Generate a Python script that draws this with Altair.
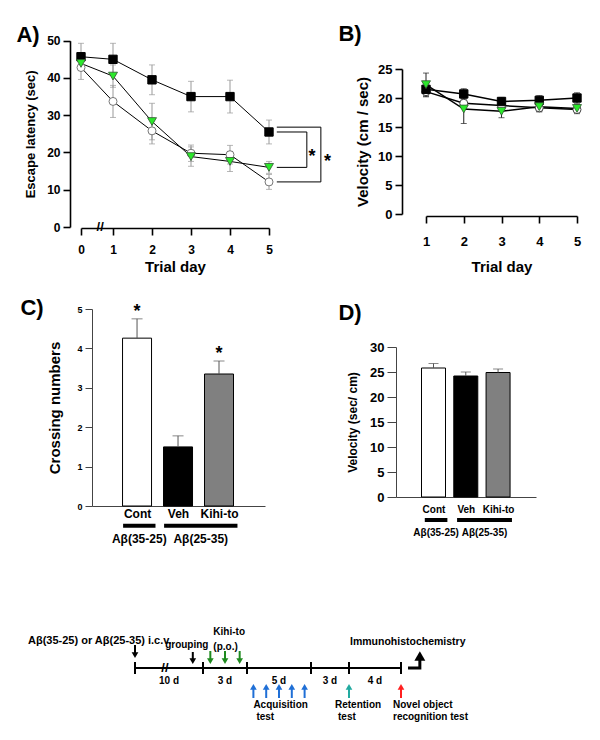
import json
import altair as alt
import pandas as pd

FONT = "Liberation Sans"
W, H = 584, 724

# ---------------- data ----------------
days_a = [0, 1, 2, 3, 4, 5]
esc_cont = [42.8, 33.7, 25.8, 19.8, 19.4, 12.1]
esc_cont_sem = [3.2, 4.3, 3.5, 2.2, 2.5, 2.0]
esc_veh = [45.7, 45.0, 39.5, 35.0, 35.0, 25.5]
esc_veh_sem = [3.6, 4.3, 4.0, 4.1, 4.4, 3.2]
esc_kihi = [43.9, 40.5, 28.3, 18.9, 17.6, 16.0]
esc_kihi_sem = [1.5, 3.0, 4.9, 2.6, 2.7, 1.6]

days_b = [1, 2, 3, 4, 5]
vel_cont = [21.1, 19.1, 18.7, 18.3, 18.0]
vel_cont_sem = [0.9, 0.8, 0.6, 0.7, 0.7]
vel_veh = [21.5, 20.7, 19.4, 19.6, 20.0]
vel_veh_sem = [1.0, 0.9, 0.7, 0.8, 0.9]
vel_kihi = [22.3, 18.1, 17.7, 18.5, 18.2]
vel_kihi_sem = [2.0, 2.5, 1.1, 0.8, 0.7]

bar_groups = ["Cont", "Veh", "Kihi-to"]
crossing = [4.26, 1.50, 3.35]
crossing_sem = [0.49, 0.28, 0.33]
crossing_sig = ["*", "", "*"]
probe_velocity = [25.8, 24.2, 24.9]
probe_velocity_sem = [0.9, 0.8, 0.7]

peptide_labels = ["Aβ(35-25)", "Aβ(25-35)"]
peptide_first = [0, 1]
peptide_last = [0, 2]

seg_labels = ["10 d", "3 d", "5 d", "3 d", "4 d"]
seg_days = [10, 3, 5, 3, 4]
icv_day = [0]
grouping_day = [8.5]
kihito_days = [10.5, 11.5, 12.5]
acquisition_days = [13.5, 14.5, 15.5, 16.5, 17.5]
retention_day = [21]
nor_day = [25]

GREEN = "#2be82b"


def pg(v):
    return v - 8


def lin(domain, rng):
    return alt.Scale(domain=domain, range=rng, nice=False, zero=False)


def T(**kw):
    d = dict(font=FONT, fontWeight="bold", color="black")
    d.update(kw)
    return d


def enc_pair(xs, ys, ax_x, ax_y):
    def X(f):
        return alt.X(f, type="quantitative", scale=xs, axis=ax_x)

    def Y(f):
        return alt.Y(f, type="quantitative", scale=ys, axis=ax_y)
    return X, Y


# ---------------- line panels ----------------
def series_parts(days, mean, sem, X, Y, err_color, line_w):
    df = pd.DataFrame({"day": days, "m": mean, "s": sem})
    b = alt.Chart(df).transform_calculate(lo="datum.m - datum.s", hi="datum.m + datum.s")
    err = [
        b.mark_rule(color=err_color, strokeWidth=1).encode(x=X("day"), y=Y("lo"), y2="hi:Q"),
        b.mark_tick(color=err_color, orient="horizontal", size=6, thickness=1).encode(
            x=X("day"), y=Y("lo")),
        b.mark_tick(color=err_color, orient="horizontal", size=6, thickness=1).encode(
            x=X("day"), y=Y("hi")),
    ]
    ln = b.mark_line(color="black", strokeWidth=line_w).encode(x=X("day"), y=Y("m"))
    return b, err, ln


def pts(b, X, Y, shape, fill, stroke, size, sw=1):
    return b.mark_point(shape=shape, filled=True, fill=fill, stroke=stroke,
                        strokeWidth=sw, size=size, opacity=1).encode(x=X("day"), y=Y("m"))


# Panel A
xa = lin([0, 1, 5], [pg(81), pg(113), pg(269)])
ya = lin([0, 50], [pg(227), pg(40.7)])
ax_xa = alt.Axis(orient="bottom", offset=pg(228) - H, values=days_a, format="d",
                 tickSize=7, labelFontSize=12, labelPadding=9, labelFlush=False,
                 title="Trial day", titleFontSize=15, titlePadding=4)
ax_ya = alt.Axis(orient="left", offset=-pg(70), values=[0, 10, 20, 30, 40, 50],
                 tickSize=7, labelFontSize=12, labelPadding=3,
                 title="Escape latency (sec)", titleFontSize=13, titlePadding=9)
XA, YA = enc_pair(xa, ya, ax_xa, ax_ya)

bc, ec, lc = series_parts(days_a, esc_cont, esc_cont_sem, XA, YA, "#999999", 1)
bv, ev, lv = series_parts(days_a, esc_veh, esc_veh_sem, XA, YA, "#999999", 1)
bk, ek, lk = series_parts(days_a, esc_kihi, esc_kihi_sem, XA, YA, "#999999", 1)

brk_a = alt.Chart(pd.DataFrame({"x": [0.6], "y": [0], "t": ["//"]})).mark_text(
    **T(fontSize=13, baseline="middle")).encode(x=XA("x"), y=YA("y"), text="t:N")

# significance brackets derived from day-5 means
last = len(days_a) - 1
br_rows = []
for y_top, y_bot, xv in [(esc_veh[last], esc_kihi[last], 5.97),
                         (esc_veh[last] + 1.3, esc_cont[last], 6.33)]:
    br_rows += [
        {"x": 5.2, "x2": xv, "y": y_top, "y2": y_top},
        {"x": 5.2, "x2": xv, "y": y_bot, "y2": y_bot},
        {"x": xv, "x2": xv, "y": y_top, "y2": y_bot},
    ]
brackets = alt.Chart(pd.DataFrame(br_rows)).mark_rule(color="black", strokeWidth=1).encode(
    x=XA("x"), x2="x2:Q", y=YA("y"), y2="y2:Q")
star_rows = [{"x": 6.1, "y": (esc_veh[last] + esc_kihi[last]) / 2, "t": "*"},
             {"x": 6.5, "y": (esc_veh[last] + 1.3 + esc_cont[last]) / 2, "t": "*"}]
stars_a = alt.Chart(pd.DataFrame(star_rows)).mark_text(
    **T(fontSize=18, baseline="alphabetic", dy=12)).encode(x=XA("x"), y=YA("y"), text="t:N")

panelA = alt.layer(
    *ec, *ev, *ek, lc, lv, lk,
    pts(bc, XA, YA, "circle", "white", "#777777", 64),
    pts(bv, XA, YA, "square", "black", "black", 70),
    pts(bk, XA, YA, "triangle-down", GREEN, "#335533", 81, 0.8),
    brk_a, brackets, stars_a,
)

# Panel B
xb = lin([1, 5], [pg(426), pg(577)])
yb = lin([0, 25], [pg(214), pg(69)])
ax_xb = alt.Axis(orient="bottom", offset=pg(216) - H, values=days_b, format="d",
                 tickSize=7, labelFontSize=13, labelPadding=12, labelFlush=False,
                 title="Trial day", titleFontSize=15, titlePadding=11)
ax_yb = alt.Axis(orient="left", offset=-pg(402), values=[0, 5, 10, 15, 20, 25],
                 tickSize=7, labelFontSize=13, labelPadding=3,
                 title="Velocity (cm / sec)", titleFontSize=15, titlePadding=7)
XB, YB = enc_pair(xb, yb, ax_xb, ax_yb)
b2c, e2c, l2c = series_parts(days_b, vel_cont, vel_cont_sem, XB, YB, "#222222", 1.5)
b2v, e2v, l2v = series_parts(days_b, vel_veh, vel_veh_sem, XB, YB, "#222222", 1.5)
b2k, e2k, l2k = series_parts(days_b, vel_kihi, vel_kihi_sem, XB, YB, "#222222", 1.5)
panelB = alt.layer(
    *e2c, *e2v, *e2k, l2c, l2v, l2k,
    pts(b2c, XB, YB, "circle", "white", "#444444", 64),
    pts(b2v, XB, YB, "square", "black", "black", 70),
    pts(b2k, XB, YB, "triangle-down", GREEN, "#335533", 81, 0.8),
)


# ---------------- bar panels ----------------
label_expr = json.dumps(bar_groups) + "[datum.value]"


def bar_panel(mean, sem, xs, ys, bar_w, cap_w, yvals, ytitle, ytitle_size, ytitle_pad,
              ylab_size, ytick, y_axis_x, x_axis_y, y_under, y_lab, pad_lo, pad_hi,
              lab_size, lab_pad, grp_size, sig=None):
    df = pd.DataFrame({"idx": list(range(len(bar_groups))), "grp": bar_groups,
                       "m": mean, "s": sem})
    if sig is not None:
        df["sig"] = sig
    b = alt.Chart(df).transform_calculate(hi="datum.m + datum.s")
    ax_x = alt.Axis(orient="bottom", offset=pg(x_axis_y) - H, values=list(range(len(bar_groups))),
                    labelExpr=label_expr, ticks=False, labelFontSize=lab_size,
                    labelPadding=lab_pad, labelFlush=False, title=None,
                    domainColor="#444444", domainWidth=1)
    ax_y = alt.Axis(orient="left", offset=-pg(y_axis_x), values=yvals, tickSize=ytick,
                    labelFontSize=ylab_size, labelPadding=3, title=ytitle,
                    titleFontSize=ytitle_size, titlePadding=ytitle_pad,
                    domainColor="#444444", tickColor="#444444", domainWidth=1, tickWidth=1)
    X, Y = enc_pair(xs, ys, ax_x, ax_y)
    bars = b.mark_bar(orient="vertical", size=bar_w, stroke="black", strokeWidth=1).encode(
        x=X("idx"), y=Y("m"),
        fill=alt.Fill("grp:N", scale=alt.Scale(domain=bar_groups,
                                               range=["white", "black", "#808080"]),
                      legend=None))
    err = b.mark_rule(color="#555555", strokeWidth=1).encode(x=X("idx"), y=Y("m"), y2="hi:Q")
    cap = b.mark_tick(color="#555555", orient="horizontal", size=cap_w, thickness=1).encode(
        x=X("idx"), y=Y("hi"))
    pdf = pd.DataFrame({"lab": peptide_labels, "first": peptide_first, "last": peptide_last})
    pb = alt.Chart(pdf).transform_calculate(
        lo=f"datum.first - {pad_lo}", hi2=f"datum.last + {pad_hi}",
        mid=f"(datum.first - {pad_lo} + datum.last + {pad_hi}) / 2",
        yu=str(y_under), yl=str(y_lab))
    under = pb.mark_rule(color="black", strokeWidth=4).encode(
        x=X("lo"), x2="hi2:Q", y=Y("yu"))
    glab = pb.mark_text(**T(fontSize=grp_size, baseline="middle")).encode(
        x=X("mid"), y=Y("yl"), text="lab:N")
    layers = [bars, err, cap, under, glab]
    if sig is not None:
        layers.append(b.mark_text(**T(fontSize=18, baseline="alphabetic", dy=-2)).encode(
            x=X("idx"), y=Y("hi"), text="sig:N"))
    return alt.layer(*layers)


xc = lin([-0.977, 3.0], [pg(92), pg(265)])
yc = lin([0, 5], [pg(506), pg(309)])
panelC = bar_panel(crossing, crossing_sem, xc, yc, 29, 11, [0, 1, 2, 3, 4, 5],
                   "Crossing numbers", 15, 14, 9, 7, 92, 506, -0.5, -0.84, 0.34, 0.45,
                   12, 2, 12, sig=crossing_sig)

xd = lin([-1.007, 3.02], [pg(396), pg(536)])
yd = lin([0, 30], [pg(497), pg(347)])
panelD = bar_panel(probe_velocity, probe_velocity_sem, xd, yd, 24, 10,
                   [0, 5, 10, 15, 20, 25, 30], "Velocity  (sec/ cm)", 12, 10, 13, 9,
                   396, 497, -4.6, -7.2, 0.27, 0.43, 10, 7, 10)

# ---------------- timeline ----------------
cum = [0]
for d in seg_days:
    cum.append(cum[-1] + d)
xt = lin(cum, [pg(135), pg(203), pg(247), pg(311), pg(349), pg(401)])
yt = lin([-60, 60], [pg(728), pg(608)])
XT, YT = enc_pair(xt, yt, None, None)

main_line = alt.Chart(pd.DataFrame({"a": [cum[0]], "b": [cum[-1]], "v": [0]})).mark_rule(
    color="black", strokeWidth=2).encode(x=XT("a"), x2="b:Q", y=YT("v"))
tl_ticks = alt.Chart(pd.DataFrame({"d": cum})).transform_calculate(
    v1="-6", v2="6").mark_rule(color="black", strokeWidth=2).encode(
    x=XT("d"), y=YT("v1"), y2="v2:Q")
mids = [(cum[i] + cum[i + 1]) / 2 for i in range(len(seg_days))]
seg_text = alt.Chart(pd.DataFrame({"d": mids, "lab": seg_labels})).transform_calculate(
    v="-13").mark_text(**T(fontSize=10, baseline="middle")).encode(
    x=XT("d"), y=YT("v"), text="lab:N")
brk_t = alt.Chart(pd.DataFrame({"d": [4.4], "v": [0], "t": ["//"]})).mark_text(
    **T(fontSize=13, baseline="middle")).encode(x=XT("d"), y=YT("v"), text="t:N")


def arrows(days, color, up, v_tail, v_tip, head=45):
    r = (head ** 0.5) / 2
    h = r / (3 ** 0.5)
    if up:
        v_head = v_tip - 2 * h
        shape = "triangle-up"
    else:
        v_head = v_tip + 2 * h
        shape = "triangle-down"
    df = pd.DataFrame({"d": days})
    b = alt.Chart(df).transform_calculate(vt=str(v_tail), vh=str(v_head))
    shaft = b.mark_rule(color=color, strokeWidth=2).encode(x=XT("d"), y=YT("vt"), y2="vh:Q")
    hd = b.mark_point(shape=shape, filled=True, color=color, size=head, opacity=1).encode(
        x=XT("d"), y=YT("vh"))
    return [shaft, hd]


arrow_layers = (
    arrows(icv_day, "black", False, 23, 9)
    + arrows(grouping_day, "black", False, 16, 3)
    + arrows(kihito_days, "#1f8a1f", False, 17, 3)
    + arrows(acquisition_days, "#1f6fd6", True, -30, -15)
    + arrows(retention_day, "#22aaa0", True, -30, -15)
    + arrows(nor_day, "#ff2020", True, -30, -15)
)

# bent arrow toward immunohistochemistry
bent = alt.Chart(pd.DataFrame({"d": [25.54, 26.45, 26.45], "v": [0, 0, 8], "o": [0, 1, 2]})).mark_line(
    color="black", strokeWidth=3, strokeCap="butt", strokeJoin="miter").encode(
    x=XT("d"), y=YT("v"), order="o:O")
bent_head = alt.Chart(pd.DataFrame({"d": [26.45], "v": [12]})).mark_point(
    shape="triangle-up", filled=True, color="black", size=120, opacity=1).encode(
    x=XT("d"), y=YT("v"))


def tl_text(s, day, dx, v, size=10, align="left"):
    return alt.Chart(pd.DataFrame({"d": [day], "v": [v], "t": [s]})).mark_text(
        **T(fontSize=size, baseline="middle", align=align, dx=dx)).encode(
        x=XT("d"), y=YT("v"), text="t:N")


tl_texts = [
    tl_text("Aβ(35-25)  or Aβ(25-35) i.c.v.", icv_day[0], -107, 27, 11),
    tl_text("grouping", grouping_day[0], -6, 23, 10, "center"),
    tl_text("Kihi-to", kihito_days[0], 3, 36),
    tl_text("(p.o.)", kihito_days[0], 3, 21),
    tl_text("Immunohistochemistry", nor_day[0], -51, 26, 10.5),
    tl_text("Acquisition", acquisition_days[0], 0, -37),
    tl_text("test", acquisition_days[0], 3, -49),
    tl_text("Retention", retention_day[0], -14, -37),
    tl_text("test", retention_day[0], -11, -49),
    tl_text("Novel object", nor_day[0], -8, -37),
    tl_text("recognition  test", nor_day[0], -8, -49),
]

timeline = alt.layer(main_line, tl_ticks, seg_text, brk_t, *arrow_layers, bent, bent_head, *tl_texts)


# ---------------- panel letters ----------------
def letter(s, x, y):
    return alt.Chart(pd.DataFrame({"t": [s]})).mark_text(
        **T(fontSize=22, baseline="middle", align="center")).encode(
        x=alt.value(pg(x)), y=alt.value(pg(y)), text="t:N")


letters = alt.layer(letter("A)", 28, 35), letter("B)", 350, 34),
                    letter("C)", 32, 308), letter("D)", 350, 313))

chart = alt.layer(panelA, panelB, panelC, panelD, timeline, letters).resolve_scale(
    x="independent", y="independent"
).properties(
    width=W, height=H, padding=0, autosize=alt.AutoSizeParams(type="none")
).configure_view(strokeWidth=0).configure_axis(
    grid=False, domainColor="black", tickColor="black", labelColor="black",
    titleColor="black", labelFont=FONT, titleFont=FONT, labelFontWeight="bold",
    titleFontWeight="bold", domainWidth=1.6, tickWidth=1.6
)

chart.save("out.html", embed_options={"renderer": "svg", "actions": False})
